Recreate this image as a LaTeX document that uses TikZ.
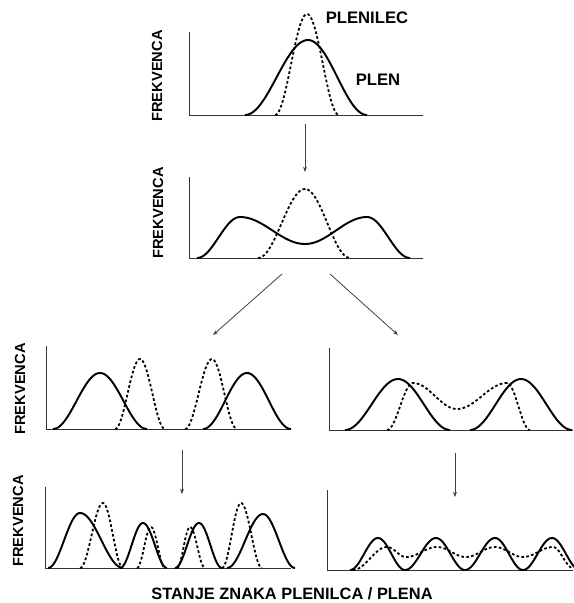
\documentclass[tikz,border=0pt]{standalone}
\usepackage{fontspec}
\setmainfont{Liberation Sans}
\usetikzlibrary{arrows.meta}
\newcommand\cseg[4]{plot[domain=#1:#3,samples=30,variable=\t] (\t,{#2+(#4-#2)*(1-cos(180*(\t-#1)/(#3-#1)))/2})}
\newcommand\cnext[4]{--plot[domain=#1:#3,samples=30,variable=\t] (\t,{#2+(#4-#2)*(1-cos(180*(\t-#1)/(#3-#1)))/2})}
\tikzset{
  axisline/.style={line width=0.7pt, draw=black!80},
  solidc/.style={line width=1.45pt, line join=round},
  dashc/.style={line width=1.35pt, dash pattern=on 2pt off 1.7pt},
  arr/.style={line width=0.6pt, draw=black!75, -{Stealth[length=4pt,width=3pt]}},
  lab/.style={font=\bfseries\fontsize{11}{13}\selectfont, inner sep=0pt},
  tag/.style={font=\bfseries\fontsize{12.5}{14}\selectfont, inner sep=0pt},
}
\begin{document}
\begin{tikzpicture}[x=0.75pt, y=-0.75pt]
\useasboundingbox (0,0) rectangle (574,603);

% ---- panel 1
\draw[axisline] (189,32) -- (189,115) -- (423,115);
\draw[solidc] \cseg{245}{115}{308}{40} \cnext{308}{40}{367}{115};
\draw[dashc] \cseg{275}{115}{307}{14} \cnext{307}{14}{339}{115};
\node[lab, rotate=90] (f1) at (157,76) {FREKVENCA};
\node[tag] (plenilec) at (367,18) {PLENILEC};
\node[tag] (plen) at (378,80) {PLEN};

% ---- panel 2
\draw[axisline] (189,177) -- (189,258) -- (423,258);
\draw[solidc] \cseg{197}{258}{240}{217} \cnext{240}{217}{305}{244} \cnext{305}{244}{367}{217} \cnext{367}{217}{410}{258};
\draw[dashc] \cseg{258}{258}{305}{189} \cnext{305}{189}{350}{258};
\node[lab, rotate=90] (f2) at (158,213) {FREKVENCA};

% ---- panel 3 left
\draw[axisline] (46,346) -- (46,429) -- (291,429);
\draw[solidc] \cseg{53}{429}{100}{373} \cnext{100}{373}{147}{429};
\draw[solidc] \cseg{203}{429}{247}{373} \cnext{247}{373}{291}{429};
\draw[dashc] \cseg{115}{429}{140}{359} \cnext{140}{359}{165}{429};
\draw[dashc] \cseg{185}{429}{212}{359} \cnext{212}{359}{237}{429};
\node[lab, rotate=90] (f3) at (20,389) {FREKVENCA};

% ---- panel 3 right
\draw[axisline] (329,348) -- (329,430) -- (573,430);
\draw[solidc] \cseg{345}{430}{398}{379} \cnext{398}{379}{450}{430};
\draw[solidc] \cseg{470}{430}{521}{379} \cnext{521}{379}{572}{430};
\draw[dashc] \cseg{387}{430}{413}{383} \cnext{413}{383}{457}{409} \cnext{457}{409}{507}{383} \cnext{507}{383}{530}{430};

% ---- panel 4 left
\draw[axisline] (45,487) -- (45,568) -- (291,568);
\draw[solidc] \cseg{48}{568}{80}{513} \cnext{80}{513}{123}{568};
\draw[solidc] \cseg{120}{568}{143}{523} \cnext{143}{523}{167}{568};
\draw[solidc] \cseg{175}{568}{199}{523} \cnext{199}{523}{222}{568};
\draw[solidc] \cseg{227}{568}{263}{514} \cnext{263}{514}{295}{568};
\draw[dashc] \cseg{80}{568}{103}{503} \cnext{103}{503}{123}{568};
\draw[dashc] \cseg{137}{568}{151}{527} \cnext{151}{527}{165}{568};
\draw[dashc] \cseg{177}{568}{190}{527} \cnext{190}{527}{205}{568};
\draw[dashc] \cseg{222}{568}{241}{503} \cnext{241}{503}{262}{568};
\node[lab, rotate=90] (f4) at (18,521) {FREKVENCA};

% ---- panel 4 right
\draw[axisline] (327,490) -- (327,570) -- (573,570);
\draw[solidc] \cseg{350}{570}{378}{538} \cnext{378}{538}{405}{570} \cnext{405}{570}{436}{538} \cnext{436}{538}{465}{570} \cnext{465}{570}{495}{538} \cnext{495}{538}{523}{570} \cnext{523}{570}{552}{538} \cnext{552}{538}{580}{570};
\draw[dashc] \cseg{353}{570}{387}{547} \cnext{387}{547}{406}{557} \cnext{406}{557}{437}{547} \cnext{437}{547}{466}{557} \cnext{466}{557}{495}{547} \cnext{495}{547}{523}{557} \cnext{523}{557}{553}{547} \cnext{553}{547}{573}{568};

% ---- arrows
\coordinate (a1s) at (305,124); \coordinate (a1e) at (305,172);
\coordinate (a2s) at (282,274); \coordinate (a2e) at (213,335);
\coordinate (a3s) at (330,274); \coordinate (a3e) at (398,335);
\coordinate (a4s) at (182,450); \coordinate (a4e) at (182,494);
\coordinate (a5s) at (455,453); \coordinate (a5e) at (455,497);
\draw[arr] (a1s) -- (a1e);
\draw[arr] (a2s) -- (a2e);
\draw[arr] (a3s) -- (a3e);
\draw[arr] (a4s) -- (a4e);
\draw[arr] (a5s) -- (a5e);

% ---- bottom label
\node[tag, font=\bfseries\fontsize{12.3}{14}\selectfont] (xlab) at (292,594) {STANJE ZNAKA PLENILCA / PLENA};
\end{tikzpicture}
\end{document}
